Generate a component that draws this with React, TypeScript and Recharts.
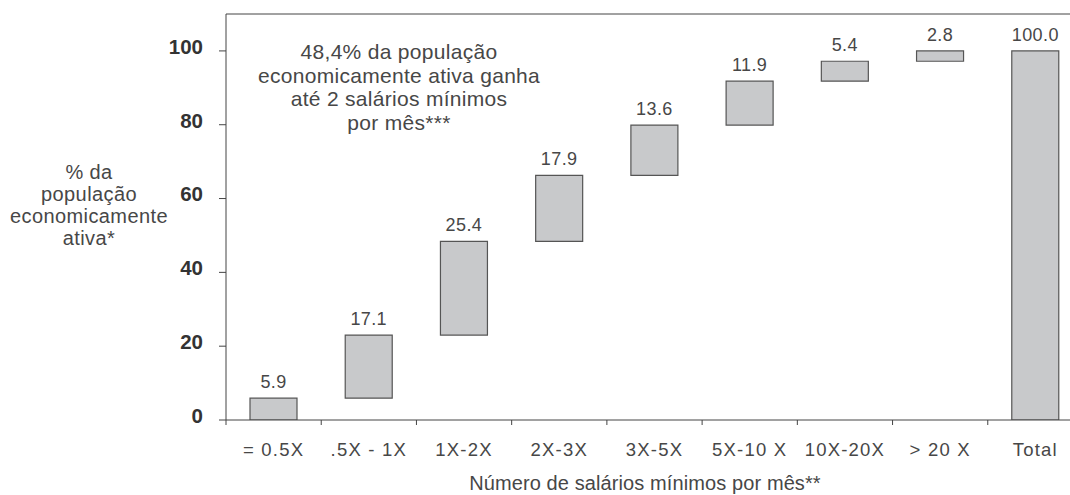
import React from 'react';
import { BarChart, Bar, XAxis, YAxis, LabelList, ReferenceLine } from 'recharts';

const categories = ['= 0.5X', '.5X - 1X', '1X-2X', '2X-3X', '3X-5X', '5X-10 X', '10X-20X', '> 20 X', 'Total'];
const shares = [5.9, 17.1, 25.4, 17.9, 13.6, 11.9, 5.4, 2.8, 100.0];
const valueLabels = ['5.9', '17.1', '25.4', '17.9', '13.6', '11.9', '5.4', '2.8', '100.0'];
const isTotal = [false, false, false, false, false, false, false, false, true];
const yTicks = [0, 20, 40, 60, 80, 100];
const yLabelLines = ['% da', 'população', 'economicamente', 'ativa*'];
const noteLines = ['48,4% da população', 'economicamente ativa ganha', 'até 2 salários mínimos', 'por mês***'];
const xTitle = 'Número de salários mínimos por mês**';

const data = categories.map((name, i) => {
  const base = isTotal[i] ? 0 : shares.slice(0, i).reduce((a, b) => a + b, 0);
  return { name, base: Math.round(base * 10) / 10, value: shares[i], label: valueLabels[i] };
});

const FONT = '"Liberation Sans", Arial, Helvetica, sans-serif';
const TEXT = '#474747';
const AXIS = '#444';

const XTick = (props: any) => {
  const { x, y, payload } = props;
  const half = payload && typeof payload.offset === 'number' && payload.offset > 0 ? payload.offset : 47.6;
  return (
    <g>
      <line x1={x - half} x2={x - half} y1={y} y2={y + 5} stroke={AXIS} strokeWidth={1} />
      <text x={x} y={y + 23} dy="0.71em" textAnchor="middle" fill={TEXT} fontSize={18.5} fontFamily={FONT} letterSpacing={1.2}>
        {payload.value}
      </text>
    </g>
  );
};

const YTick = (props: any) => {
  const { x, y, payload } = props;
  return (
    <text x={x} y={y - 4.5} dy="0.355em" textAnchor="end" fill="#333" fontSize={20.5} fontWeight="bold" fontFamily={FONT}>
      {payload.value}
    </text>
  );
};

export default function App() {
  return (
    <div style={{ position: 'absolute', left: 0, top: 0, width: 1070, height: 495, overflow: 'hidden', background: '#fff' }}>
      <BarChart width={1083} height={495} data={data} margin={{ top: 14, right: 0, bottom: 45, left: 0 }} barSize={47}>
        <YAxis
          type="number"
          width={226}
          domain={[0, 110]}
          ticks={yTicks}
          tickSize={7}
          tickMargin={16}
          tick={<YTick />}
          axisLine={{ stroke: AXIS }}
          tickLine={{ stroke: AXIS }}
          allowDataOverflow
        />
        <XAxis dataKey="name" height={30} tickSize={0} tickMargin={0} tickLine={false} tick={<XTick />} axisLine={{ stroke: AXIS }} interval={0} />
        <ReferenceLine y={110} stroke={AXIS} ifOverflow="extendDomain" />
        <Bar dataKey="base" stackId="w" fill="none" stroke="none" isAnimationActive={false} />
        <Bar dataKey="value" stackId="w" fill="#c8c9cb" stroke="#555" strokeWidth={1.2} isAnimationActive={false}>
          <LabelList dataKey="label" position="top" offset={10} fill={TEXT} fontSize={18} fontFamily={FONT} letterSpacing={0.4} />
        </Bar>
      </BarChart>
      <svg width={1070} height={495} style={{ position: 'absolute', left: 0, top: 0, pointerEvents: 'none' }}>
        <text x={399} fill={TEXT} fontSize={21} fontFamily={FONT} textAnchor="middle" letterSpacing={0.3}>
          {noteLines.map((t, i) => (
            <tspan key={i} x={399} y={59 + i * 23.6}>{t}</tspan>
          ))}
        </text>
        <text x={89} fill={TEXT} fontSize={20} fontFamily={FONT} textAnchor="middle" letterSpacing={0.4}>
          {yLabelLines.map((t, i) => (
            <tspan key={i} x={89} y={179 + i * 22}>{t}</tspan>
          ))}
        </text>
        <text x={645} y={490} fill={TEXT} fontSize={20} fontFamily={FONT} textAnchor="middle" letterSpacing={0.1}>
          {xTitle}
        </text>
      </svg>
    </div>
  );
}
